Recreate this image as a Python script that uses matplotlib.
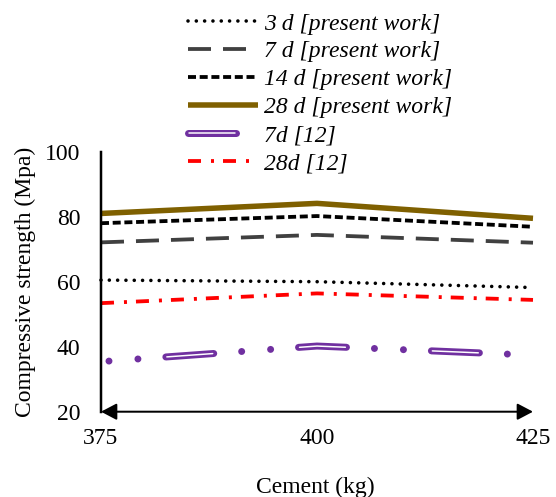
import matplotlib
matplotlib.use("Agg")
import matplotlib.pyplot as plt
from matplotlib.lines import Line2D

plt.rcParams["font.family"] = ["Liberation Serif", "DejaVu Serif"]
plt.rcParams["lines.scale_dashes"] = False

# Data
cement = [375, 400, 425]
d3_present = [60.5, 60.0, 58.2]
d7_present = [72.1, 74.4, 72.0]
d14_present = [78.0, 80.2, 76.9]
d28_present = [81.0, 84.1, 79.5]
d7_ref12 = [35.4, 40.2, 37.4]
d28_ref12 = [53.4, 56.4, 54.4]

series_labels = ["3 d [present work]", "7 d [present work]", "14 d [present work]",
                 "28 d [present work]", "7d [12]", "28d [12]"]
x_ticks = [375, 400, 425]
y_ticks = [20, 40, 60, 80, 100]

DPI = 100
PX = 72.0 / DPI  # points per pixel
FS = 17

fig = plt.figure(figsize=(5.56, 4.97), dpi=DPI)
ax = fig.add_axes([101 / 556, 1 - 411.7 / 497, 432 / 556, 260 / 497])

style_3d = dict(color="black", lw=3.6 * PX, linestyle=(0, (0.01, 8.3 * PX)),
                dash_capstyle="round")
style_7d = dict(color="#404040", lw=3.8 * PX, linestyle=(0, (23 * PX, 12 * PX)))
style_14d = dict(color="black", lw=3.8 * PX, linestyle=(0, (8 * PX, 3.7 * PX)))
style_28d = dict(color="#7F6000", lw=5.5 * PX, solid_capstyle="butt")
style_28r = dict(color="#FF0000", lw=3.8 * PX,
                 linestyle=(0, (13 * PX, 10 * PX, 3 * PX, 9 * PX)))

purple = "#7030A0"
pat_outer = (48 * PX, 28 * PX, 0.01, 29 * PX, 0.01, 28 * PX)
pat_inner = (46 * PX, 87 * PX)

ax.plot(cement, d28_ref12, clip_on=False, **style_28r)
ax.plot(cement, d3_present, clip_on=False, **style_3d)
ax.plot(cement, d7_present, clip_on=False, **style_7d)
ax.plot(cement, d14_present, clip_on=False, **style_14d)
ax.plot(cement, d28_present, clip_on=False, **style_28d)
# double-line dash with round dots
ax.plot(cement, d7_ref12, color=purple, lw=7 * PX, clip_on=False,
        linestyle=(68 * PX, pat_outer), dash_capstyle="round")
ax.plot(cement, d7_ref12, color="white", lw=1.5 * PX, clip_on=False,
        linestyle=(67 * PX, pat_inner), dash_capstyle="round")

ax.set_xlim(375, 425)
ax.set_ylim(20, 100)
ax.set_xticks(x_ticks)
ax.set_yticks(y_ticks)
ax.tick_params(axis="both", length=0, labelsize=FS)
ax.tick_params(axis="y", pad=15)
ax.tick_params(axis="x", pad=12)

for s in ["top", "right", "bottom"]:
    ax.spines[s].set_visible(False)
ax.spines["left"].set_linewidth(2.5 * PX)

ax.annotate("", xy=(425, 20), xytext=(375, 20), annotation_clip=False,
            arrowprops=dict(arrowstyle="<|-|>,head_length=0.95,head_width=0.5",
                            lw=2 * PX, color="black", shrinkA=0, shrinkB=0))

ax.set_xlabel("Cement (kg)", fontsize=FS)
ax.xaxis.set_label_coords(0.497, -(487 - 411.7) / 260)
ax.xaxis.label.set_va("center")
ax.set_ylabel("Compressive strength (Mpa)", fontsize=FS)
ax.yaxis.set_label_coords(-(101 - 25) / 432, 0.5)
ax.yaxis.label.set_va("center")

# Legend handles
h_3d = Line2D([], [], **style_3d)
h_7d = Line2D([], [], **style_7d)
h_14d = Line2D([], [], **style_14d)
h_28d = Line2D([], [], **style_28d)
h_7r_o = Line2D([], [], color=purple, lw=7 * PX, linestyle=(0, pat_outer),
                dash_capstyle="round")
h_7r_i = Line2D([], [], color="white", lw=1.5 * PX, linestyle=(132 * PX, pat_inner),
                dash_capstyle="round")
h_28r = Line2D([], [], **style_28r)

fs_px = FS / PX
leg = fig.legend([h_3d, h_7d, h_14d, h_28d, (h_7r_o, h_7r_i), h_28r], series_labels,
                 loc="upper left", bbox_to_anchor=(188 / 556, 1 - 13 / 497),
                 frameon=False,
                 prop=dict(family=["Liberation Serif"], style="italic", size=FS),
                 handlelength=70 / fs_px, handletextpad=6 / fs_px, labelspacing=0.27,
                 borderpad=0, borderaxespad=0)

fig.savefig("out.png", dpi=DPI)
